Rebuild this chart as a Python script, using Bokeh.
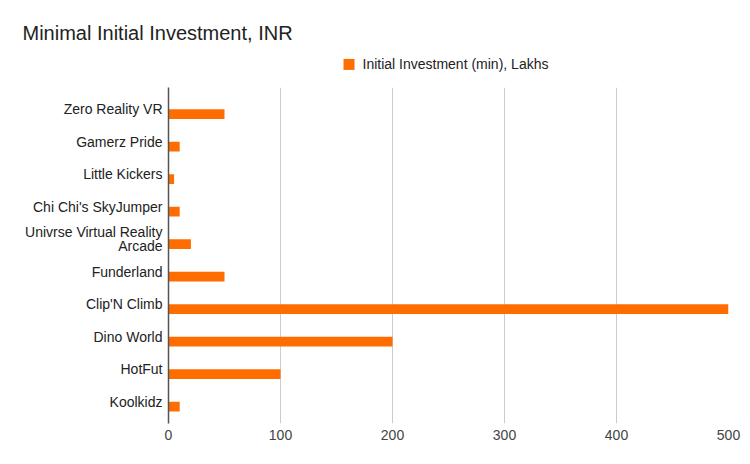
from bokeh.plotting import figure
from bokeh.models import FactorRange, Range1d, FixedTicker, ColumnDataSource
from bokeh.core.properties import value
from bokeh.transform import dodge
from bokeh.embed import file_html
from bokeh.resources import INLINE

categories = ["Zero Reality VR", "Gamerz Pride", "Little Kickers", "Chi Chi's SkyJumper",
              "Univrse Virtual Reality Arcade", "Funderland", "Clip'N Climb", "Dino World",
              "HotFut", "Koolkidz"]
category_labels = ["Zero Reality VR", "Gamerz Pride", "Little Kickers", "Chi Chi's SkyJumper",
                   "Univrse Virtual Reality\nArcade", "Funderland", "Clip'N Climb", "Dino World",
                   "HotFut", "Koolkidz"]
investment = [50, 10, 5, 10, 20, 50, 500, 200, 100, 10]
x_ticks = [0, 100, 200, 300, 400, 500]
x_max = 500
title_text = "Minimal Initial Investment, INR"
series_name = "Initial Investment (min), Lakhs"

FONT = "Liberation Sans"
ORANGE = "#ff6d01"

W, H = 750, 464
LEFT, RIGHT, TOP, BOTTOM = 168, 22, 87, 41
FRAME_W = W - LEFT - RIGHT
PAD = 0.17

src = ColumnDataSource(dict(cat=categories, val=investment, lab=category_labels,
                            zero=[0] * len(categories)))

p = figure(width=W, height=H, output_backend="svg", toolbar_location=None, title=None,
           y_range=FactorRange(factors=list(reversed(categories)), range_padding=PAD,
                               range_padding_units="absolute"),
           x_range=Range1d(0, x_max),
           min_border_left=LEFT, min_border_right=RIGHT, min_border_top=TOP,
           min_border_bottom=BOTTOM)
p.outline_line_color = None

r = p.hbar(y=dodge("cat", -0.15, range=p.y_range), right="val", left=0, height=0.3,
           color=ORANGE, line_color=None, source=src)

# category labels (multi-line capable), drawn unclipped left of the axis
p.text(x="zero", y="cat", text="lab", source=src, x_offset=-6, text_align="right",
       text_baseline="middle", text_font=value(FONT), text_font_size="14px",
       text_color="#222222", text_line_height=0.9, level="overlay")

# title, placed top-left above the plot area
ttl = ColumnDataSource(dict(x=[0], cat=[categories[0]], name=[title_text]))
p.text(x="x", y=dodge("cat", 2.36, range=p.y_range), text="name", source=ttl,
       x_offset=22 - LEFT, text_align="left", text_baseline="middle",
       text_font=value(FONT), text_font_size="20px", text_color="#222222", level="overlay")

# legend (series swatch + name) above the plot area
leg_x = 180.5 * x_max / FRAME_W
leg = ColumnDataSource(dict(x=[leg_x], cat=[categories[0]], name=[series_name]))
p.rect(x="x", y=dodge("cat", 1.38, range=p.y_range), width=11, height=11,
       width_units="screen", height_units="screen", color=ORANGE, line_color=None,
       source=leg, level="overlay")
p.text(x="x", y=dodge("cat", 1.38, range=p.y_range), text="name", source=leg, x_offset=13.5,
       text_align="left", text_baseline="middle", text_font=value(FONT),
       text_font_size="14px", text_color="#222222", level="overlay")

# x axis
p.xaxis.ticker = FixedTicker(ticks=x_ticks)
p.xaxis.axis_line_color = None
p.xaxis.major_tick_line_color = None
p.xaxis.minor_tick_line_color = None
p.xaxis.major_tick_out = 0
p.xaxis.major_label_text_font = FONT
p.xaxis.major_label_text_font_size = "14px"
p.xaxis.major_label_text_color = "#444444"
p.xaxis.major_label_standoff = 6

# y axis: line only
p.yaxis.ticker = FixedTicker(ticks=[])
p.yaxis.axis_line_color = "#555555"
p.yaxis.axis_line_width = 1.5
p.yaxis.major_tick_line_color = None
p.yaxis.minor_tick_line_color = None

p.xgrid.grid_line_color = "#cccccc"
p.ygrid.grid_line_color = None

open("out.html", "w").write(file_html(p, INLINE))
